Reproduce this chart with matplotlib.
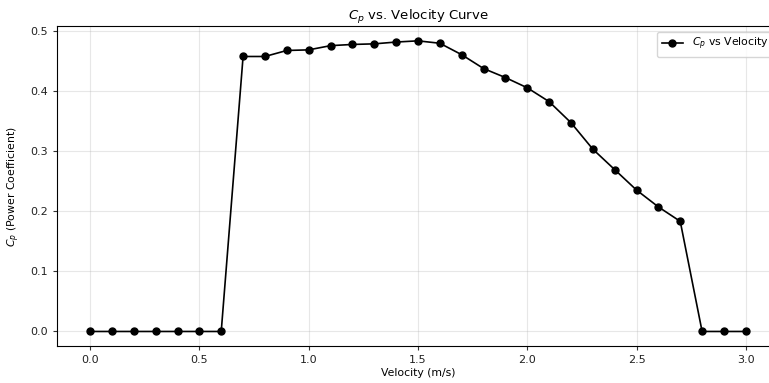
import numpy as np
import matplotlib.pyplot as plt

velocity = [0.0, 0.1, 0.2, 0.3, 0.4, 0.5, 0.6, 0.7, 0.8, 0.9, 1.0,
            1.1, 1.2, 1.3, 1.4, 1.5, 1.6, 1.7, 1.8, 1.9, 2.0,
            2.1, 2.2, 2.3, 2.4, 2.5, 2.6, 2.7, 2.8, 2.9, 3.0]
cp = [0.0, 0.0, 0.0, 0.0, 0.0, 0.0, 0.0, 0.457, 0.457, 0.467, 0.468,
      0.475, 0.477, 0.478, 0.481, 0.483, 0.479, 0.460, 0.437, 0.422, 0.405,
      0.382, 0.347, 0.303, 0.269, 0.235, 0.207, 0.183, 0.0, 0.0, 0.0]


def plot_cp(v, c):
  fig = plt.figure(figsize=(7.69, 3.83), dpi=100)
  # axes run slightly past the right edge, like the cropped original
  ax = fig.add_axes([0.0745, 0.0966, 0.938, 0.8347])

  ax.plot(v, c, marker='o', color='black', linewidth=1.2, markersize=5,
          label=r'$C_p$ vs Velocity')

  ax.set_title(r'$C_p$ vs. Velocity Curve', fontsize=9.5, pad=4)
  ax.set_xlabel('Velocity (m/s)', fontsize=7.8, labelpad=2)
  ax.set_ylabel(r'$C_p$ (Power Coefficient)', fontsize=7.8, labelpad=6)
  ax.tick_params(labelsize=8, colors='#333333', length=3, width=0.8)
  ax.tick_params(axis='both', labelcolor='#222222')
  ax.grid(True, alpha=0.3)
  ax.legend(loc='upper right', fontsize=7.8)

  fig.savefig('out.png', dpi=100)


if __name__ == "__main__":
  plot_cp(velocity, cp)
